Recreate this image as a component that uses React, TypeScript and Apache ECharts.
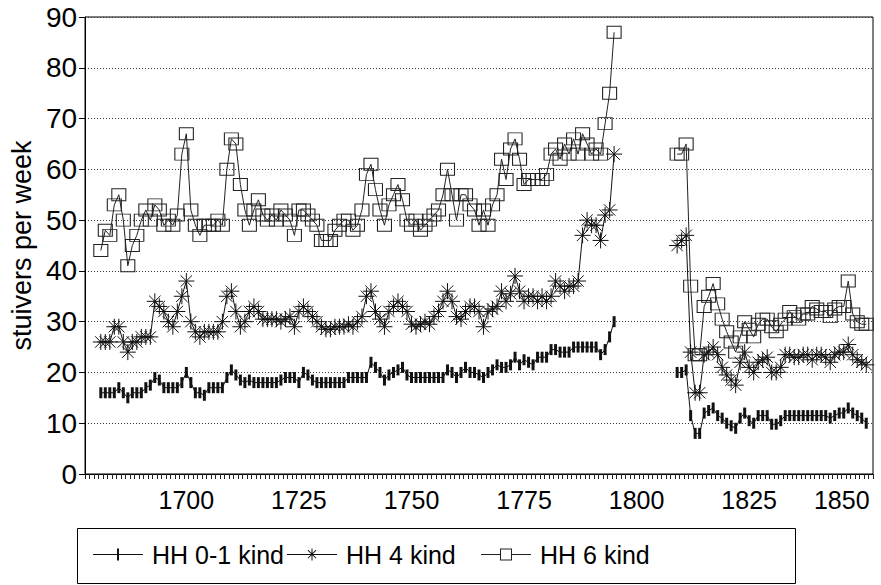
import React, { useEffect, useRef } from 'react';
import * as echarts from 'echarts';

// ---- axis range (category years) ----
const FIRST_YEAR = 1678;
const LAST_YEAR = 1852;
const LABEL_YEARS = [1700, 1725, 1750, 1775, 1800, 1825, 1850];

// ---- data blocks ----
const EARLY_START = 1681; // 1681..1795
const LATE_START = 1809; // 1809..1851

const hh01Early = [
  16, 16, 16, 16, 17, 16, 15, 16, 16, 16, // 1681-1690
  17, 17.5, 19, 18.5, 17, 17, 17, 17, 18, 20, // 1691-1700
  18, 16, 16, 15.5, 17, 17, 17, 17, 19, 20.5, // 1701-1710
  19.5, 18.5, 18, 18.5, 18, 18, 18, 18, 18, 18, // 1711-1720
  18.5, 19, 19, 19, 18, 20, 19.5, 18.5, 18, 18, // 1721-1730
  18, 18, 18, 18, 18, 19, 19, 19, 19, 19, // 1731-1740
  22, 21, 20, 18.5, 19.5, 20, 20.5, 21, 19.5, 19, // 1741-1750
  19, 19, 19, 19, 19, 19, 19, 20.5, 20, 19, // 1751-1760
  20, 21, 20, 20, 19.5, 19, 20, 20.5, 21.5, 21, // 1761-1770
  21, 21.5, 23, 21.5, 22.5, 22, 21.5, 23, 23, 23, // 1771-1780
  24.5, 24.5, 24, 24, 24, 25, 25, 25, 25, 25, // 1781-1790
  25, 23.5, 24.5, 27, 30, // 1791-1795
];
const hh01Late = [
  20, 20, 20.5, 11.5, 8, 8, 12, 12.5, 13, 11.5, 11, // 1809-1819
  10, 9.5, 9, 11, 12, 10.5, 10, 11.5, 11.5, 11.5, // 1820-1829
  9.8, 9.8, 10.5, 11.5, 11.5, 11.5, 11.5, 11.5, 11.5, 11.5, // 1830-1839
  11.5, 11.5, 11.5, 11, 11.5, 12, 12, 13, 12, 11.5, // 1840-1849
  11, 10, // 1850-1851
];

const hh4Early = [
  26, 26, 26, 29, 29, 26, 24, 26, 26, 27, // 1681-1690
  27, 27, 34, 33, 32, 30, 29, 32, 35, 38, // 1691-1700
  30, 28, 27, 28, 28, 28, 28, 30, 35, 36, // 1701-1710
  32, 29, 30, 32, 33, 32, 30.5, 30.5, 30.5, 30.5, // 1711-1720
  30, 30.5, 31, 29, 32, 33, 32, 31, 30, 29, // 1721-1730
  28.5, 28.5, 29, 29, 29, 29.5, 29, 30, 31, 35, // 1731-1740
  36, 32, 30.5, 29, 32, 33, 34, 33, 32, 29.5, // 1741-1750
  29, 29.5, 30, 29.5, 31, 32, 34, 36, 34, 31, // 1751-1760
  30.5, 32, 33, 33, 32, 29, 32, 32.5, 33, 36, // 1761-1770
  34, 35.5, 39, 36, 34, 35, 35, 34, 35, 34, // 1771-1780
  35, 38, 37, 36, 37, 37, 38, 47, 50, 49, // 1781-1790
  49, 46, 51, 52, 63, // 1791-1795
];
const hh4Late = [
  45, 46, 47, 24, 16, 16, 23.5, 24, 25, 23.5, 21, // 1809-1819
  19.5, 18.5, 17.5, 22, 24, 21, 20, 22, 22.5, 23, // 1820-1829
  20, 20, 21, 23.5, 23.5, 23, 23, 23.5, 23.5, 22.5, // 1830-1839
  23.5, 23.5, 23, 22, 23.5, 24, 24, 25.5, 23.5, 22.5, // 1840-1849
  22, 21.5, // 1850-1851
];

const hh6Early = [
  44, 48, 47, 53, 55, 50, 41, 45, 47, 50, // 1681-1690
  52, 50, 53, 52, 49, 50, 49, 51, 63, 67, // 1691-1700
  52, 49, 47, 49, 49, 49, 50, 49, 60, 66, // 1701-1710
  65, 57, 52, 49, 52, 54, 51, 50, 51, 50, // 1711-1720
  52, 51, 50, 47, 52, 52, 51, 50, 49, 46, // 1721-1730
  46, 46, 48, 49, 50, 50, 48, 49, 52, 59, // 1731-1740
  61, 56, 52, 49, 53, 55, 57, 54, 50, 49, // 1741-1750
  50, 48, 49, 50, 51, 52, 55, 60, 55, 50, // 1751-1760
  55, 55, 53, 52, 49, 52, 49, 53, 55, 62, // 1761-1770
  58, 64, 66, 62, 57, 58, 58, 58, 58, 59, // 1771-1780
  63, 64, 62, 65, 63, 66, 63, 67, 65, 63, // 1781-1790
  64, 63, 69, 75, 87, // 1791-1795
];
const hh6Late = [
  63, 63, 65, 37, 23.5, 23.5, 33, 35, 37.5, 33.5, 30.5, // 1809-1819
  28, 26, 24, 27, 30, 28.5, 27, 29.5, 30.5, 30.5, // 1820-1829
  29, 28, 29.5, 30.5, 32, 31, 30.5, 31.5, 31.5, 33, // 1830-1839
  32.5, 32, 32, 31, 32.5, 33, 33, 38, 31.5, 30, // 1840-1849
  29.5, 29.5, // 1850-1851
];

const SERIES_NAMES = ['HH 0-1 kind', 'HH 4 kind', 'HH 6 kind'];

const years: string[] = [];
for (let y = FIRST_YEAR; y <= LAST_YEAR; y++) years.push(String(y));

function buildSeries(early: number[], late: number[]): (number | null)[] {
  return years.map((ys) => {
    const y = Number(ys);
    const ei = y - EARLY_START;
    if (ei >= 0 && ei < early.length) return early[ei];
    const li = y - LATE_START;
    if (li >= 0 && li < late.length) return late[li];
    return null;
  });
}

const FONT = '"Liberation Sans", Arial, Helvetica, sans-serif';

const ASTERISK = 'path://M0,7H14M7,0V14M2,2L12,12M2,12L12,2';
const LEG_BAR = 'path://M0,5.5H50V6.5H0Z M24,0H26V12H24Z';
const LEG_STAR =
  'path://M0,5.5H50V6.5H0Z M24.5,0H25.5V12H24.5Z M20.6,1.9L21.3,1.2L29.4,9.4L28.7,10.1Z M28.7,1.2L29.4,1.9L21.3,10.1L20.6,9.4Z';
const LEG_SQUARE = 'path://M0,5.5H19V6.5H0Z M31,5.5H50V6.5H31Z M19,0H31V12H19Z M20,1V11H30V1Z';

export default function App() {
  const ref = useRef<HTMLDivElement>(null);
  useEffect(() => {
    if (!ref.current) return;
    const chart = echarts.init(ref.current, undefined, { renderer: 'svg' });
    const legendBase = {
      orient: 'horizontal',
      top: 537,
      itemWidth: 50,
      itemHeight: 12,
      selectedMode: false,
      textStyle: { fontSize: 25, fontFamily: FONT, color: '#000', padding: [0, 0, 0, 4] },
    };
    chart.setOption({
      animation: false,
      backgroundColor: '#fff',
      grid: {
        left: 77,
        right: 8,
        top: 17,
        bottom: 111,
        show: true,
        borderColor: '#000',
        borderWidth: 1,
        backgroundColor: 'transparent',
      },
      xAxis: {
        type: 'category',
        data: years,
        boundaryGap: true,
        axisLine: { lineStyle: { color: '#000', width: 1 } },
        axisTick: { show: true, interval: 0, length: 5, lineStyle: { color: '#222', width: 1 } },
        axisLabel: {
          interval: (_i: number, v: string) => LABEL_YEARS.includes(Number(v)),
          margin: 13,
          fontSize: 25,
          fontFamily: FONT,
          color: '#000',
          formatter: (v: string) => (Number(v) === 1850 ? '{s|' + v + '}' : v),
          rich: { s: { padding: [0, 40, 0, 0], fontSize: 25, fontFamily: FONT, color: '#000' } },
        },
        splitLine: { show: false },
      },
      yAxis: {
        type: 'value',
        min: 0,
        max: 90,
        interval: 10,
        name: 'stuivers per week',
        nameLocation: 'middle',
        nameGap: 47,
        nameTextStyle: { fontSize: 27, fontFamily: FONT, color: '#000' },
        axisLine: { show: true, lineStyle: { color: '#000', width: 1 } },
        axisTick: { show: true, length: 6, lineStyle: { color: '#000' } },
        axisLabel: { fontSize: 28, fontFamily: FONT, color: '#000', margin: 8 },
        splitLine: { show: true, lineStyle: { type: [1, 2], color: '#333', width: 1 } },
      },
      legend: [
        { ...legendBase, left: 88, data: [{ name: SERIES_NAMES[0], icon: LEG_BAR, itemStyle: { color: '#111', borderWidth: 0 } }] },
        { ...legendBase, left: 282, data: [{ name: SERIES_NAMES[1], icon: LEG_STAR, itemStyle: { color: '#111', borderWidth: 0 } }] },
        { ...legendBase, left: 476, data: [{ name: SERIES_NAMES[2], icon: LEG_SQUARE, itemStyle: { color: '#222', borderWidth: 0 } }] },
      ],
      graphic: [
        {
          type: 'rect',
          shape: { x: 77.5, y: 528.5, width: 718, height: 55 },
          style: { fill: 'none', stroke: '#000', lineWidth: 1 },
          silent: true,
        },
      ],
      series: [
        {
          name: SERIES_NAMES[0],
          type: 'line',
          data: buildSeries(hh01Early, hh01Late),
          connectNulls: false,
          symbol: 'rect',
          symbolSize: [3, 11],
          showAllSymbol: true,
          itemStyle: { color: '#111' },
          lineStyle: { color: '#111', width: 1 },
          z: 2,
        },
        {
          name: SERIES_NAMES[1],
          type: 'line',
          data: buildSeries(hh4Early, hh4Late),
          connectNulls: false,
          symbol: ASTERISK,
          symbolSize: 16,
          showAllSymbol: true,
          itemStyle: { color: '#111', borderColor: '#111', borderWidth: 1 },
          lineStyle: { color: '#111', width: 1 },
          z: 3,
        },
        {
          name: SERIES_NAMES[2],
          type: 'line',
          data: buildSeries(hh6Early, hh6Late),
          connectNulls: false,
          symbol: 'rect',
          symbolSize: [14, 12],
          showAllSymbol: true,
          itemStyle: { color: 'rgba(255,255,255,0)', borderColor: '#222', borderWidth: 1 },
          lineStyle: { color: '#222', width: 1 },
          z: 4,
        },
      ],
    });
    return () => chart.dispose();
  }, []);
  return <div ref={ref} style={{ width: 881, height: 585, position: 'absolute', left: 0, top: 0 }} />;
}
